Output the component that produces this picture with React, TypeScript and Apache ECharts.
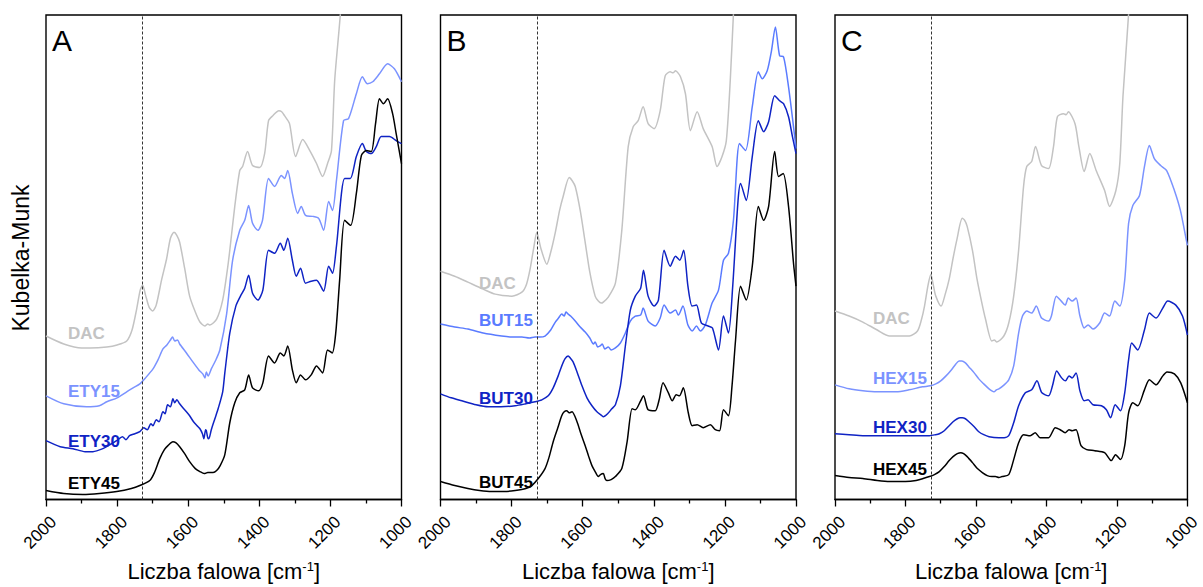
import React, { useEffect, useRef } from "react";
import * as echarts from "echarts";

// wavenumber [cm-1], Kubelka-Munk (arbitrary units)
const dacA: number[][] = [[2000,164],[1950,156],[1900,152],[1876,152],[1829,153],[1800,155],[1773,159],[1758,170],[1745,191],[1735,210],[1728,215],[1720,205],[1710,193],[1700,189],[1690,195],[1675,220],[1661,241],[1650,262],[1640,268],[1632,265],[1624,258],[1610,232],[1596,204],[1580,188],[1567,178],[1553,174],[1545,176],[1539,175],[1520,181],[1503,200],[1490,230],[1483,250],[1469,294],[1455,330],[1447,334],[1433,349],[1419,335],[1399,333],[1385,347],[1374,380],[1362,385],[1345,390],[1337,389],[1329,385],[1315,377],[1298,344],[1278,361],[1258,350],[1239,337],[1222,324],[1208,337],[1197,350],[1188,420],[1172,487],[1160,560],[1140,650]];
const ety15: number[][] = [[2000,104],[1950,96],[1886,93],[1850,94],[1829,98],[1800,102],[1773,108],[1755,112],[1736,116],[1720,122],[1699,131],[1685,140],[1671,151],[1660,155],[1650,160],[1644,163],[1638,159],[1630,160],[1624,156],[1605,147],[1587,138],[1570,130],[1559,126],[1553,122],[1549,128],[1544,124],[1535,131],[1521,141],[1511,150],[1492,186],[1475,240],[1455,270],[1441,280],[1430,295],[1419,277],[1404,270],[1391,280],[1374,322],[1357,314],[1338,325],[1329,322],[1320,330],[1307,307],[1292,287],[1282,294],[1270,285],[1250,284],[1233,282],[1219,270],[1205,299],[1194,290],[1183,320],[1163,380],[1149,382],[1127,407],[1110,424],[1096,417],[1081,419],[1062,427],[1039,437],[1020,432],[1000,419]];
const ety30: number[][] = [[2000,59],[1960,53],[1924,51],[1890,48],[1868,48],[1840,51],[1820,55],[1801,59],[1785,63],[1775,60],[1765,64],[1750,66],[1736,68],[1725,72],[1715,70],[1705,76],[1699,74],[1690,80],[1682,78],[1671,88],[1665,86],[1658,95],[1650,93],[1643,101],[1638,97],[1632,100],[1624,96],[1615,92],[1605,88],[1596,84],[1585,78],[1575,74],[1567,71],[1560,66],[1556,61],[1551,70],[1549,69],[1545,62],[1542,61],[1535,70],[1525,81],[1515,92],[1503,108],[1497,127],[1483,167],[1466,194],[1453,204],[1441,212],[1430,225],[1419,207],[1404,200],[1390,210],[1374,250],[1357,247],[1341,257],[1331,250],[1320,262],[1307,240],[1296,224],[1284,232],[1270,217],[1254,219],[1239,220],[1219,209],[1205,234],[1194,227],[1183,254],[1160,322],[1144,322],[1127,344],[1110,357],[1099,349],[1085,347],[1071,354],[1057,364],[1034,364],[1015,360],[1000,357]];
const ety45: number[][] = [[2000,9],[1950,6],[1896,5],[1850,6],[1801,8],[1760,11],[1736,14],[1708,19],[1695,27],[1680,41],[1667,50],[1657,54],[1643,58],[1635,57],[1624,53],[1610,46],[1596,38],[1580,31],[1567,28],[1555,26],[1545,27],[1530,27],[1520,29],[1510,34],[1497,45],[1483,77],[1469,97],[1455,107],[1441,110],[1430,125],[1419,112],[1402,109],[1390,117],[1374,144],[1357,137],[1341,147],[1331,144],[1320,154],[1307,130],[1296,117],[1284,125],[1270,120],[1254,125],[1239,134],[1222,127],[1208,150],[1195,147],[1185,167],[1174,220],[1160,280],[1143,275],[1127,307],[1113,345],[1099,350],[1085,349],[1073,377],[1062,402],[1051,397],[1039,402],[1025,387],[1015,367],[1000,337]];

const dacB: number[][] = [[2000,229],[1960,224],[1923,218],[1880,211],[1846,206],[1799,204],[1771,208],[1758,216],[1748,231],[1738,252],[1729,268],[1723,260],[1717,251],[1701,236],[1690,248],[1677,268],[1665,290],[1655,304],[1638,323],[1630,320],[1621,314],[1607,290],[1593,258],[1580,228],[1565,204],[1556,199],[1548,197],[1542,198],[1528,203],[1508,217],[1490,270],[1472,354],[1458,374],[1444,380],[1430,394],[1416,377],[1399,372],[1382,390],[1368,425],[1354,429],[1346,428],[1339,430],[1325,424],[1311,407],[1297,370],[1278,389],[1261,372],[1236,354],[1222,334],[1208,344],[1196,360],[1185,420],[1176,487],[1160,600],[1140,680]];
const but15: number[][] = [[2000,176],[1960,173],[1923,171],[1880,167],[1828,164],[1800,163],[1771,163],[1750,162],[1734,163],[1720,163],[1706,164],[1690,170],[1677,178],[1668,182],[1659,186],[1652,184],[1647,188],[1641,186],[1634,184],[1621,179],[1607,173],[1593,168],[1580,162],[1570,156],[1565,158],[1558,153],[1551,154],[1545,156],[1538,151],[1528,153],[1520,150],[1508,152],[1494,157],[1480,167],[1466,179],[1452,184],[1437,185],[1430,192],[1416,179],[1396,174],[1382,182],[1371,195],[1354,187],[1339,190],[1331,185],[1318,194],[1304,175],[1292,169],[1280,174],[1269,169],[1255,175],[1236,197],[1218,210],[1204,240],[1190,247],[1176,280],[1159,357],[1142,350],[1123,394],[1106,429],[1095,422],[1081,430],[1069,450],[1058,474],[1046,445],[1035,444],[1021,414],[1007,374],[1000,352]];
const but30: number[][] = [[2000,106],[1970,102],[1940,99],[1900,95],[1866,93],[1830,93],[1790,94],[1760,96],[1734,98],[1715,100],[1697,104],[1683,112],[1669,124],[1660,133],[1650,141],[1641,144],[1635,142],[1627,138],[1615,127],[1602,114],[1588,102],[1574,94],[1560,88],[1546,84],[1542,83],[1530,86],[1518,91],[1508,95],[1494,114],[1480,154],[1466,190],[1452,204],[1437,212],[1429,230],[1416,204],[1399,194],[1387,200],[1371,250],[1354,234],[1339,244],[1327,240],[1316,250],[1304,214],[1292,194],[1280,195],[1266,177],[1247,174],[1235,172],[1218,150],[1204,184],[1190,167],[1178,214],[1163,300],[1156,317],[1140,300],[1123,344],[1106,380],[1091,369],[1077,379],[1060,405],[1046,400],[1035,397],[1021,384],[1010,364],[1000,347]];
const but45: number[][] = [[2000,18],[1960,14],[1923,11],[1890,9],[1856,8],[1820,8],[1790,9],[1760,11],[1743,14],[1725,21],[1706,31],[1695,42],[1683,58],[1670,72],[1659,84],[1652,88],[1645,89],[1638,87],[1630,88],[1616,78],[1605,66],[1593,54],[1583,43],[1574,34],[1565,28],[1556,23],[1550,25],[1542,26],[1537,21],[1532,19],[1520,20],[1508,23],[1490,31],[1475,58],[1461,91],[1452,90],[1437,99],[1429,104],[1416,90],[1396,89],[1385,100],[1374,117],[1359,107],[1348,99],[1337,105],[1328,104],[1317,112],[1303,87],[1292,74],[1278,75],[1261,72],[1241,75],[1227,70],[1215,69],[1204,90],[1190,84],[1180,114],[1170,160],[1156,214],[1140,200],[1123,234],[1106,294],[1091,280],[1077,294],[1060,349],[1049,324],[1036,327],[1021,294],[1007,237],[1000,214]];

const dacC: number[][] = [[2000,189],[1960,184],[1921,178],[1880,170],[1845,164],[1789,164],[1766,169],[1755,180],[1746,194],[1736,215],[1728,226],[1721,215],[1714,204],[1699,194],[1688,205],[1676,221],[1665,242],[1654,261],[1639,282],[1632,280],[1625,274],[1610,250],[1597,221],[1585,200],[1573,181],[1555,159],[1548,160],[1541,158],[1521,164],[1507,177],[1493,204],[1479,250],[1465,314],[1456,334],[1442,339],[1431,354],[1414,335],[1394,332],[1380,354],[1369,384],[1352,387],[1344,386],[1338,389],[1319,377],[1308,354],[1293,329],[1277,347],[1259,330],[1235,310],[1221,294],[1203,310],[1192,337],[1183,404],[1167,487],[1150,600],[1130,700]];
const hex15: number[][] = [[2000,115],[1960,111],[1921,109],[1880,108],[1826,108],[1790,110],[1752,113],[1730,114],[1714,116],[1700,119],[1685,124],[1670,130],[1657,136],[1648,139],[1640,139],[1630,137],[1620,133],[1605,127],[1592,121],[1578,116],[1563,111],[1555,109],[1549,108],[1542,110],[1535,111],[1520,115],[1507,120],[1493,134],[1479,167],[1468,184],[1456,189],[1442,187],[1429,194],[1414,182],[1394,179],[1386,184],[1372,204],[1358,199],[1347,195],[1338,202],[1327,199],[1316,202],[1305,184],[1293,172],[1282,175],[1268,171],[1249,177],[1235,187],[1221,184],[1206,199],[1192,194],[1178,220],[1167,277],[1155,295],[1136,305],[1122,334],[1108,355],[1094,342],[1076,335],[1059,330],[1037,310],[1020,290],[1003,260],[1000,255]];
const hex30: number[][] = [[2000,66],[1960,65],[1921,64],[1880,64],[1826,64],[1780,64],[1732,64],[1715,65],[1704,66],[1690,69],[1676,74],[1665,78],[1653,81],[1645,82],[1639,82],[1630,81],[1620,78],[1605,73],[1592,68],[1578,65],[1563,63],[1535,62],[1520,62],[1507,64],[1493,77],[1479,94],[1460,107],[1442,110],[1427,119],[1413,107],[1394,104],[1383,114],[1371,129],[1357,122],[1346,119],[1336,124],[1327,122],[1316,127],[1305,109],[1293,99],[1282,100],[1268,95],[1244,94],[1230,90],[1218,82],[1205,95],[1190,89],[1178,107],[1167,140],[1158,157],[1141,150],[1122,170],[1108,187],[1089,182],[1070,192],[1056,199],[1033,195],[1014,184],[1000,165]];
const hex45: number[][] = [[2000,24],[1960,22],[1921,21],[1880,19],[1845,18],[1800,18],[1770,19],[1750,21],[1732,23],[1718,25],[1704,28],[1690,33],[1676,39],[1665,43],[1653,46],[1643,47],[1635,46],[1625,43],[1610,37],[1596,31],[1582,27],[1568,24],[1555,23],[1545,23],[1535,22],[1526,23],[1507,25],[1493,40],[1479,57],[1465,65],[1446,64],[1432,67],[1418,62],[1394,62],[1375,72],[1361,70],[1347,67],[1336,70],[1327,69],[1316,70],[1302,54],[1286,50],[1263,49],[1235,47],[1216,39],[1204,45],[1190,40],[1178,54],[1167,87],[1155,97],[1141,94],[1122,110],[1108,120],[1089,115],[1070,124],[1058,128],[1037,126],[1019,117],[1000,97]];

const panelLetters = ["A", "B", "C"];
const seriesNames = [
  ["DAC", "ETY15", "ETY30", "ETY45"],
  ["DAC", "BUT15", "BUT30", "BUT45"],
  ["DAC", "HEX15", "HEX30", "HEX45"],
];
const seriesData = [
  [dacA, ety15, ety30, ety45],
  [dacB, but15, but30, but45],
  [dacC, hex15, hex30, hex45],
];
const xTicks = { min: 1000, max: 2000, interval: 200 };
const markerWavenumber = 1728;
const xTitle = "Liczba falowa [cm";
const yTitle = "Kubelka-Munk";

const FONT = "Arial, 'Liberation Sans', sans-serif";
const GRAY = "#c3c3c3";
const DARK = "#0f23c4";
const lightBlues = ["#7b93ff", "#5a7bff", "#7b93ff"];

const gridLefts = [46, 440.5, 835];
const gridWidth = 355.5;
const gridTop = 15;
const gridHeight = 486;

// label positions (pixels) for each panel's series names
const labelX = [68, 479, 873];
const labelY = [
  [333, 391, 441, 483],
  [283, 320, 398, 482],
  [318, 378, 427, 469],
];

export default function App() {
  const ref = useRef<HTMLDivElement>(null);
  useEffect(() => {
    if (!ref.current) return;
    const chart = echarts.init(ref.current, null, { renderer: "svg" });
    const grids = gridLefts.map((l) => ({
      left: l,
      top: gridTop,
      width: gridWidth,
      height: gridHeight,
      show: true,
      borderColor: "#000",
      borderWidth: 1.4,
      backgroundColor: "transparent",
    }));
    const xAxes = gridLefts.map((_, i) => ({
      type: "value",
      gridIndex: i,
      inverse: true,
      min: xTicks.min,
      max: xTicks.max,
      interval: xTicks.interval,
      splitLine: { show: false },
      axisLine: { show: true, onZero: false, lineStyle: { color: "#000", width: 1.4 } },
      axisTick: { show: true, length: 7, lineStyle: { color: "#000", width: 1.3 } },
      minorTick: { show: true, splitNumber: 2, length: 4, lineStyle: { color: "#000", width: 1.3 } },
      axisLabel: {
        rotate: 45,
        color: "#000",
        margin: 8,
        showMinLabel: true,
        showMaxLabel: true,
        formatter: (v: number) => "{t|" + String(v) + "}",
        rich: {
          t: { fontSize: 17, color: "#000", fontFamily: FONT, padding: [27, 3, 0, 0] },
        },
      },
      name: xTitle + "{sup|-1}]",
      nameLocation: "middle",
      nameGap: 60,
      nameTextStyle: {
        fontSize: 22,
        color: "#000",
        fontFamily: FONT,
        rich: { sup: { fontSize: 13, verticalAlign: "top", padding: [0, 0, 10, 0], color: "#000", fontFamily: FONT } },
      },
    }));
    const yAxes = gridLefts.map((_, i) => ({
      type: "value",
      gridIndex: i,
      min: 0,
      max: gridHeight,
      show: false,
    }));
    const series: any[] = [];
    seriesData.forEach((panel, p) => {
      panel.forEach((d, k) => {
        const color = k === 0 ? GRAY : k === 1 ? lightBlues[p] : k === 2 ? DARK : "#000";
        const s: any = {
          type: "line",
          name: seriesNames[p][k] + "-" + p,
          xAxisIndex: p,
          yAxisIndex: p,
          data: d,
          showSymbol: false,
          symbol: "none",
          smooth: 0.25,
          clip: true,
          lineStyle: { color, width: 1.5 },
          z: 2 + k,
        };
        if (k === 0) {
          s.markLine = {
            silent: true,
            symbol: "none",
            label: { show: false },
            lineStyle: { type: [3, 2], color: "#333", width: 1 },
            data: [{ xAxis: markerWavenumber }],
          };
        }
        series.push(s);
      });
    });
    const graphics: any[] = [];
    panelLetters.forEach((L, p) => {
      graphics.push({
        type: "text",
        left: gridLefts[p] + 6,
        top: 25,
        style: { text: L, fontSize: 30, fill: "#000", fontFamily: FONT },
      });
      seriesNames[p].forEach((n, k) => {
        const color = k === 0 ? GRAY : k === 1 ? lightBlues[p] : k === 2 ? DARK : "#000";
        graphics.push({
          type: "text",
          x: labelX[p],
          y: labelY[p][k],
          style: {
            text: n,
            fontSize: 17,
            fontWeight: "bold",
            fill: color,
            fontFamily: FONT,
            verticalAlign: "middle",
            align: "left",
          },
          z: 10,
        });
      });
    });
    graphics.push({
      type: "text",
      x: 21,
      y: 258,
      rotation: Math.PI / 2,
      style: {
        text: yTitle,
        fontSize: 23,
        fill: "#000",
        fontFamily: FONT,
        align: "center",
        verticalAlign: "middle",
      },
    });
    chart.setOption({
      animation: false,
      backgroundColor: "#fff",
      grid: grids,
      xAxis: xAxes,
      yAxis: yAxes,
      series,
      graphic: graphics,
    });
    return () => chart.dispose();
  }, []);
  return (
    <div
      ref={ref}
      style={{ position: "absolute", left: 0, top: 0, width: 1203, height: 587 }}
    />
  );
}
